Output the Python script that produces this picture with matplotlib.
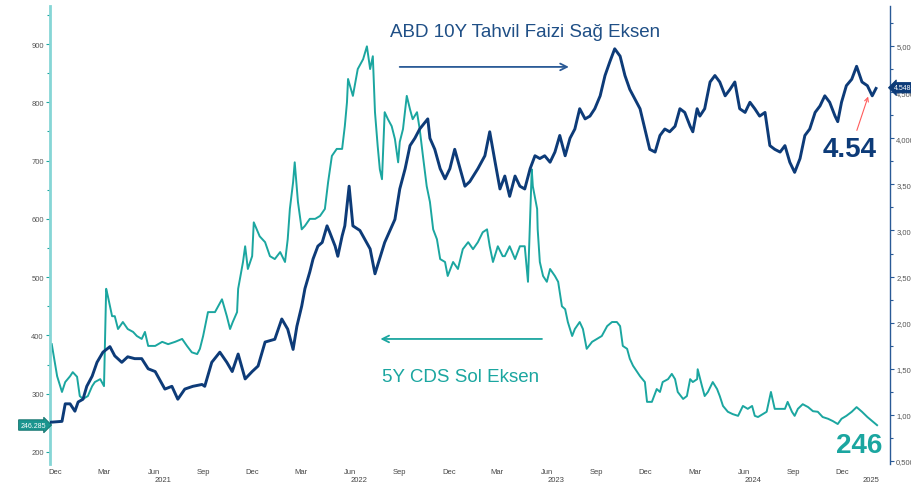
import matplotlib
matplotlib.use("Agg")
import matplotlib.pyplot as plt
import matplotlib.dates as mdates
import matplotlib.ticker as mticker
import matplotlib.transforms as mtransforms
from matplotlib import font_manager
import pandas as pd

# ABD 10Y tahvil faizi (sag eksen)
tahvil_tarih = [
    "2020-12-05", "2020-12-27", "2021-01-02", "2021-01-11", "2021-01-20", "2021-01-26",
    "2021-02-04", "2021-02-11", "2021-02-21", "2021-03-02", "2021-03-13", "2021-03-26",
    "2021-04-04", "2021-04-17", "2021-04-28", "2021-05-11", "2021-05-24", "2021-06-05",
    "2021-06-18", "2021-07-06", "2021-07-19", "2021-07-30", "2021-08-12", "2021-08-27",
    "2021-09-13", "2021-09-18", "2021-10-01", "2021-10-16", "2021-10-29", "2021-11-08",
    "2021-11-19", "2021-12-02", "2021-12-15", "2021-12-26", "2022-01-08", "2022-01-26",
    "2022-02-08", "2022-02-19", "2022-03-01", "2022-03-08", "2022-03-17", "2022-03-23",
    "2022-04-01", "2022-04-07", "2022-04-16", "2022-04-24", "2022-05-03", "2022-05-08",
    "2022-05-18", "2022-05-23", "2022-05-31", "2022-06-05", "2022-06-13", "2022-06-20",
    "2022-07-03", "2022-07-22", "2022-07-31", "2022-08-18", "2022-09-06", "2022-09-15",
    "2022-09-25", "2022-10-04", "2022-10-13", "2022-10-22", "2022-11-06", "2022-11-10",
    "2022-11-19", "2022-11-29", "2022-12-08", "2022-12-17", "2022-12-26", "2023-01-05",
    "2023-01-14", "2023-01-23", "2023-02-07", "2023-02-20", "2023-03-01", "2023-03-11",
    "2023-03-20", "2023-03-29", "2023-04-07", "2023-04-17", "2023-04-26", "2023-05-05",
    "2023-05-15", "2023-05-24", "2023-06-02", "2023-06-11", "2023-06-21", "2023-06-30",
    "2023-07-09", "2023-07-19", "2023-07-28", "2023-08-06", "2023-08-15", "2023-08-25",
    "2023-09-03", "2023-09-12", "2023-09-22", "2023-10-01", "2023-10-10", "2023-10-19",
    "2023-10-29", "2023-11-07", "2023-11-16", "2023-11-25", "2023-12-05", "2023-12-14",
    "2023-12-23", "2024-01-02", "2024-01-11", "2024-01-20", "2024-01-29", "2024-02-08",
    "2024-02-17", "2024-02-26", "2024-03-07", "2024-03-12", "2024-03-20", "2024-03-25",
    "2024-04-03", "2024-04-13", "2024-04-22", "2024-05-01", "2024-05-11", "2024-05-20",
    "2024-05-29", "2024-06-07", "2024-06-17", "2024-06-26", "2024-07-05", "2024-07-14",
    "2024-07-24", "2024-08-02", "2024-08-11", "2024-08-21", "2024-08-30", "2024-09-08",
    "2024-09-17", "2024-09-27", "2024-10-06", "2024-10-15", "2024-10-25", "2024-11-03",
    "2024-11-12", "2024-11-21", "2024-12-01", "2024-12-06", "2024-12-13", "2024-12-22",
    "2025-01-01", "2025-01-10", "2025-01-20", "2025-01-30", "2025-02-08", "2025-02-15",
]
tahvil_deger = [
    0.92, 0.93, 1.12, 1.12, 1.04, 1.14,
    1.17, 1.31, 1.42, 1.57, 1.68, 1.74,
    1.64, 1.57, 1.63, 1.61, 1.61, 1.50,
    1.47, 1.28, 1.31, 1.17, 1.28, 1.31,
    1.33, 1.31, 1.57, 1.68, 1.57, 1.47,
    1.66, 1.39, 1.47, 1.53, 1.79, 1.82,
    2.04, 1.93, 1.71, 1.96, 2.18, 2.37,
    2.55, 2.69, 2.83, 2.87, 3.05, 2.98,
    2.83, 2.72, 2.94, 3.05, 3.48, 3.05,
    3.00, 2.80, 2.53, 2.87, 3.12, 3.45,
    3.67, 3.92, 4.00, 4.10, 4.21, 4.00,
    3.88, 3.67, 3.56, 3.67, 3.88, 3.67,
    3.48, 3.53, 3.67, 3.81, 4.07, 3.74,
    3.45, 3.59, 3.37, 3.59, 3.48, 3.45,
    3.67, 3.81, 3.78, 3.81, 3.74, 3.85,
    4.03, 3.81, 4.00, 4.10, 4.32, 4.21,
    4.24, 4.32, 4.46, 4.68, 4.83, 4.97,
    4.89, 4.68, 4.53, 4.43, 4.32, 4.10,
    3.88, 3.85, 4.03, 4.10, 4.07, 4.13,
    4.32, 4.28, 4.13, 4.07, 4.32, 4.24,
    4.32, 4.61, 4.68, 4.61, 4.46, 4.53,
    4.61, 4.32, 4.28, 4.39, 4.32, 4.24,
    4.28, 3.92, 3.88, 3.85, 3.92, 3.74,
    3.63, 3.78, 4.03, 4.10, 4.28, 4.35,
    4.46, 4.39, 4.24, 4.18, 4.39, 4.57,
    4.64, 4.78, 4.61, 4.57, 4.46, 4.54,
]

# 5Y CDS (sol eksen)
cds_tarih = [
    "2020-12-08", "2020-12-18", "2020-12-27", "2021-01-02", "2021-01-11", "2021-01-16",
    "2021-01-24", "2021-01-29", "2021-02-04", "2021-02-13", "2021-02-21", "2021-02-26",
    "2021-03-08", "2021-03-15", "2021-03-19", "2021-03-22", "2021-03-30", "2021-04-04",
    "2021-04-10", "2021-04-19", "2021-04-28", "2021-05-08", "2021-05-15", "2021-05-24",
    "2021-05-30", "2021-06-05", "2021-06-18", "2021-07-01", "2021-07-12", "2021-07-25",
    "2021-08-07", "2021-08-16", "2021-08-25", "2021-09-04", "2021-09-09", "2021-09-15",
    "2021-09-24", "2021-10-07", "2021-10-20", "2021-10-29", "2021-11-04", "2021-11-09",
    "2021-11-17", "2021-11-19", "2021-11-28", "2021-12-02", "2021-12-07", "2021-12-15",
    "2021-12-18", "2021-12-29", "2022-01-08", "2022-01-17", "2022-01-26", "2022-02-05",
    "2022-02-14", "2022-02-19", "2022-02-23", "2022-03-01", "2022-03-04", "2022-03-10",
    "2022-03-17", "2022-03-23", "2022-04-01", "2022-04-11", "2022-04-20", "2022-04-29",
    "2022-05-05", "2022-05-12", "2022-05-21", "2022-05-31", "2022-06-05", "2022-06-09",
    "2022-06-11", "2022-06-20", "2022-06-29", "2022-07-09", "2022-07-16", "2022-07-22",
    "2022-07-27", "2022-07-31", "2022-08-05", "2022-08-09", "2022-08-13", "2022-08-18",
    "2022-08-24", "2022-08-31", "2022-09-06", "2022-09-12", "2022-09-15", "2022-09-21",
    "2022-09-28", "2022-10-04", "2022-10-09", "2022-10-17", "2022-10-22", "2022-10-28",
    "2022-11-04", "2022-11-10", "2022-11-16", "2022-11-23", "2022-11-29", "2022-12-08",
    "2022-12-13", "2022-12-23", "2023-01-01", "2023-01-10", "2023-01-20", "2023-01-29",
    "2023-02-07", "2023-02-16", "2023-02-24", "2023-03-01", "2023-03-07", "2023-03-16",
    "2023-03-25", "2023-03-29", "2023-04-07", "2023-04-17", "2023-04-26", "2023-05-05",
    "2023-05-11", "2023-05-18", "2023-05-20", "2023-05-28", "2023-05-29", "2023-06-02",
    "2023-06-08", "2023-06-15", "2023-06-21", "2023-06-30", "2023-07-06", "2023-07-13",
    "2023-07-19", "2023-07-24", "2023-08-01", "2023-08-06", "2023-08-15", "2023-08-21",
    "2023-08-28", "2023-09-07", "2023-09-16", "2023-09-25", "2023-10-05", "2023-10-14",
    "2023-10-23", "2023-10-29", "2023-11-03", "2023-11-11", "2023-11-16", "2023-11-22",
    "2023-12-05", "2023-12-14", "2023-12-18", "2023-12-27", "2024-01-05", "2024-01-11",
    "2024-01-16", "2024-01-26", "2024-02-02", "2024-02-08", "2024-02-13", "2024-02-23",
    "2024-03-01", "2024-03-07", "2024-03-12", "2024-03-20", "2024-03-21", "2024-03-29",
    "2024-04-03", "2024-04-09", "2024-04-18", "2024-04-26", "2024-05-01", "2024-05-07",
    "2024-05-16", "2024-05-25", "2024-06-04", "2024-06-13", "2024-06-22", "2024-06-30",
    "2024-07-05", "2024-07-11", "2024-07-20", "2024-07-27", "2024-08-04", "2024-08-11",
    "2024-08-21", "2024-08-30", "2024-09-04", "2024-09-12", "2024-09-17", "2024-09-23",
    "2024-10-02", "2024-10-12", "2024-10-21", "2024-10-30", "2024-11-08", "2024-11-18",
    "2024-11-27", "2024-12-06", "2024-12-13", "2024-12-22", "2025-01-01", "2025-01-10",
    "2025-01-20", "2025-01-30", "2025-02-08", "2025-02-17",
]
cds_deger = [
    385, 330, 303, 320, 330, 337,
    329, 296, 291, 296, 313, 320,
    325, 313, 480, 468, 433, 433,
    411, 423, 411, 406, 399, 394,
    406, 382, 382, 389, 385, 389,
    394, 382, 371, 368, 377, 399,
    440, 440, 462, 433, 411, 423,
    440, 480, 526, 553, 514, 536,
    594, 570, 560, 536, 531, 543,
    526, 565, 617, 663, 697, 629,
    582, 588, 600, 600, 605, 617,
    663, 708, 720, 720, 759, 800,
    840, 811, 857, 874, 896, 857,
    879, 783, 725, 685, 668, 783,
    771, 759, 737, 697, 732, 754,
    811, 788, 771, 783, 754, 708,
    656, 629, 582, 565, 531, 526,
    502, 526, 514, 548, 560, 548,
    560, 577, 582, 553, 526, 553,
    536, 536, 553, 531, 553, 553,
    492, 685, 656, 617, 582, 526,
    502, 492, 514, 502, 492, 450,
    445, 423, 399, 411, 423, 411,
    377, 389, 394, 399, 416, 423,
    423, 416, 382, 377, 360, 348,
    330, 320, 286, 286, 308, 303,
    320, 325, 334, 325, 303, 291,
    296, 325, 320, 325, 342, 313,
    296, 303, 320, 308, 296, 279,
    269, 265, 262, 279, 274, 279,
    262, 260, 265, 269, 303, 274,
    274, 274, 286, 269, 262, 274,
    282, 277, 270, 269, 260, 257,
    253, 248, 257, 262, 269, 277,
    269, 260, 253, 246,
]

yillar = [2021, 2022, 2023, 2024, 2025]
son_cds = "246.285"
son_tahvil = "4.548"

LACIVERT = "#0d3b78"
TURKUAZ = "#1ba6a0"
ACIK_TURKUAZ = "#86d6d6"

mevcut = {f.name for f in font_manager.fontManager.ttflist}
DAR = "Liberation Sans Narrow" if "Liberation Sans Narrow" in mevcut else "Liberation Sans"
YAZI_BOY = 16 if DAR == "Liberation Sans Narrow" else 13.5

plt.rcParams["font.family"] = ["Liberation Sans", "DejaVu Sans"]

fig = plt.figure(figsize=(9.12, 4.85), dpi=100)
ax = fig.add_axes([50 / 912, 20 / 485, 840 / 912, 458 / 485])
ax2 = ax.twinx()

t_cds = pd.to_datetime(cds_tarih)
t_tah = pd.to_datetime(tahvil_tarih)

ax.plot(t_cds, cds_deger, color=TURKUAZ, lw=1.4)
ax2.plot(t_tah, tahvil_deger, color=LACIVERT, lw=2.1)

ax.set_xlim(pd.Timestamp("2020-12-04 18:00"), pd.Timestamp("2025-03-13"))
ax.set_ylim(179.4, 965.2)
ax2.set_ylim(0.4675, 5.434)

# eksenler
for s in ["top", "bottom", "right"]:
    ax.spines[s].set_visible(False)
for s in ["top", "bottom", "left"]:
    ax2.spines[s].set_visible(False)
ax.spines["left"].set_color(ACIK_TURKUAZ)
ax.spines["left"].set_linewidth(2)
ax2.spines["right"].set_color("#2a5a96")
ax2.spines["right"].set_linewidth(1)

ax.yaxis.set_major_locator(mticker.MultipleLocator(100))
ax.yaxis.set_minor_locator(mticker.MultipleLocator(50))
ax.yaxis.set_major_formatter(mticker.FuncFormatter(lambda v, p: f"{v:.0f}" if 200 <= v <= 900 else ""))
ax.tick_params(axis="y", which="major", length=3, width=0.8, color=TURKUAZ,
               labelsize=5.5, labelcolor="#555555", pad=1.5)
ax.tick_params(axis="y", which="minor", length=2, width=0.8, color=TURKUAZ)

ax2.yaxis.set_major_locator(mticker.MultipleLocator(0.5))
ax2.yaxis.set_minor_locator(mticker.MultipleLocator(0.25))
ax2.yaxis.set_major_formatter(mticker.FuncFormatter(
    lambda v, p: f"{v:.4f}".replace(".", ",") if 0.49 <= v <= 5.01 else ""))
ax2.tick_params(axis="y", which="major", length=3, width=0.8, color="#2a5a96",
                labelsize=5.5, labelcolor="#555555", pad=1.5)
ax2.tick_params(axis="y", which="minor", length=2, width=0.8, color="#2a5a96")

ax.xaxis.set_major_locator(mdates.MonthLocator(bymonth=[3, 6, 9, 12], bymonthday=15))
ax.xaxis.set_major_formatter(mdates.DateFormatter("%b"))
ax.tick_params(axis="x", length=0, labelsize=5.5, labelcolor="#444444", pad=3)

xmin, xmax = ax.get_xlim()
trans = mtransforms.blended_transform_factory(ax.transData, ax.transAxes)
for yil in yillar:
    bas = max(mdates.date2num(pd.Timestamp(f"{yil}-01-01")), xmin)
    son = min(mdates.date2num(pd.Timestamp(f"{yil}-12-31")), xmax)
    ax.text((bas + son) / 2, -0.0335, str(yil), transform=trans, ha="center", va="center",
            fontsize=5.5, color="#444444")

# son deger etiketleri
ax.annotate(son_cds, xy=(0, float(son_cds)), xycoords=("axes fraction", "data"),
            xytext=(-3, 0), textcoords="offset points", ha="right", va="center",
            fontsize=5, color="white", annotation_clip=False,
            bbox=dict(boxstyle="rarrow,pad=0.25", fc="#1a958f", ec="#0f6f6a", lw=0.6))
ax2.annotate(son_tahvil, xy=(1, float(son_tahvil)), xycoords=("axes fraction", "data"),
             xytext=(3, 0), textcoords="offset points", ha="left", va="center",
             fontsize=5, color="white", annotation_clip=False,
             bbox=dict(boxstyle="larrow,pad=0.25", fc=LACIVERT, ec=LACIVERT, lw=0.6))

# aciklamalar
ax.text(0.5655, 0.945, "ABD 10Y Tahvil Faizi Sağ Eksen", transform=ax.transAxes,
        ha="center", va="center", fontsize=YAZI_BOY, color="#1f4f86", family=[DAR, "DejaVu Sans"])
ax.annotate("", xy=(0.621, 0.867), xytext=(0.413, 0.867), xycoords="axes fraction",
            arrowprops=dict(arrowstyle="->", color="#2a5a96", lw=1.3, mutation_scale=12))
ax.text(0.489, 0.19, "5Y CDS Sol Eksen", transform=ax.transAxes,
        ha="center", va="center", fontsize=YAZI_BOY, color=TURKUAZ, family=[DAR, "DejaVu Sans"])
ax.annotate("", xy=(0.390, 0.273), xytext=(0.589, 0.273), xycoords="axes fraction",
            arrowprops=dict(arrowstyle="->", color=TURKUAZ, lw=1.3, mutation_scale=12))

ax.text(0.952, 0.688, "4.54", transform=ax.transAxes, ha="center", va="center",
        fontsize=20, fontweight="bold", color=LACIVERT)
ax.text(0.963, 0.0415, "246", transform=ax.transAxes, ha="center", va="center",
        fontsize=20, fontweight="bold", color=TURKUAZ)
ax.annotate("", xy=(0.975, 0.808), xytext=(0.9595, 0.7227), xycoords="axes fraction",
            arrowprops=dict(arrowstyle="->", color="#ff5b5b", lw=0.8, mutation_scale=7))

fig.savefig("out.png", dpi=100)
